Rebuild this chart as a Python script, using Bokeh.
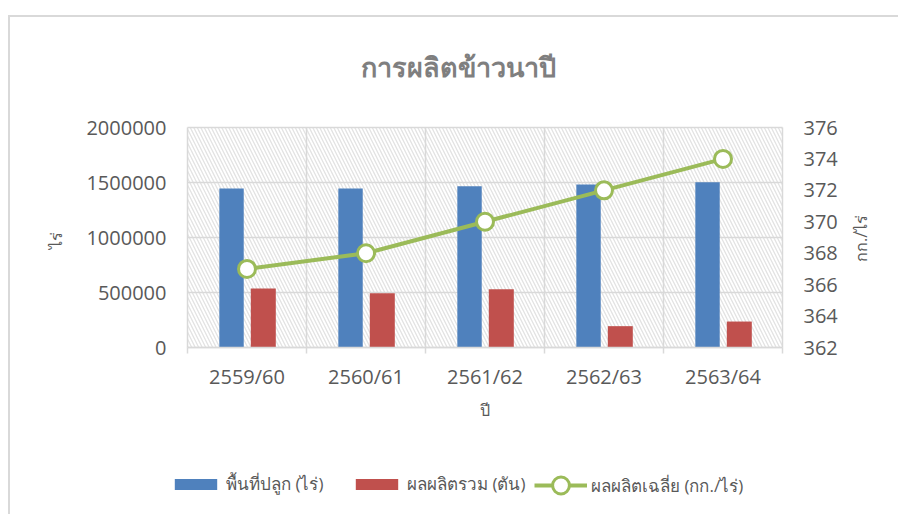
import math
from bokeh.plotting import figure
from bokeh.models import (Range1d, LinearAxis, FixedTicker, Legend, LegendItem,
                          BoxAnnotation, Label, ColumnDataSource, BasicTickFormatter)
from bokeh.transform import dodge
from bokeh.embed import file_html
from bokeh.resources import INLINE

years = ["2559/60", "2560/61", "2561/62", "2562/63", "2563/64"]
area = [1445000, 1445000, 1466000, 1482000, 1503000]
production = [536000, 494000, 530000, 194000, 236000]
yield_avg = [367, 368, 370, 372, 374]
left_ticks = [0, 500000, 1000000, 1500000, 2000000]
right_ticks = [362, 364, 366, 368, 370, 372, 374, 376]

# layout (pixels, inside the drawing frame; y measured from the frame bottom)
FW, FH = 888, 497          # whole drawing area
CAT_PX = 119               # width of one category
DATA_L = 177               # left edge of data area
DATA_B = 167               # bottom of data area (from frame bottom)
DATA_H = 220               # height of data area

xpos = list(range(1, len(years) + 1))
bounds = [x - 0.5 for x in xpos] + [xpos[-1] + 0.5]
src = ColumnDataSource(dict(x=xpos, area=area, prod=production, yld=yield_avg))

GRID = "#d9d9d9"
TXT = "#595959"
FONT = "Open Sans"

l_lo, l_hi = left_ticks[0], left_ticks[-1]
r_lo, r_hi = right_ticks[0], right_ticks[-1]
DATA_R = DATA_L + CAT_PX * len(years)
top_px = FH - DATA_B - DATA_H


def yr(lo, hi):
    k = (hi - lo) / DATA_H
    return Range1d(lo - DATA_B * k, hi + top_px * k)


p = figure(frame_width=FW, frame_height=FH,
           min_border_left=0, min_border_top=0, min_border_right=0, min_border_bottom=0,
           output_backend="svg", toolbar_location=None,
           x_range=Range1d(bounds[0] - DATA_L / CAT_PX, bounds[-1] + (FW - DATA_R) / CAT_PX),
           y_range=yr(l_lo, l_hi))
p.styles = {"margin-left": "8px", "margin-top": "15px",
            "border-top": "2px solid #d9d9d9", "border-left": "2px solid #d9d9d9"}
p.extra_y_ranges = {"r": yr(r_lo, r_hi)}
p.outline_line_color = None
p.background_fill_color = "white"
p.border_fill_color = "white"
p.xgrid.visible = False
p.ygrid.visible = False

# hatched plot-area background
bg = BoxAnnotation(left=bounds[0], right=bounds[-1], bottom=l_lo, top=l_hi,
                   fill_color="white", fill_alpha=1.0, line_color=None,
                   hatch_pattern="\\", hatch_color="#e3e3e3", hatch_scale=7,
                   hatch_weight=1.3, level="image")
p.add_layout(bg)

# grid lines
p.segment(x0=bounds, x1=bounds, y0=[l_lo] * len(bounds), y1=[l_hi] * len(bounds),
          line_color=GRID, line_width=1.5)
p.segment(x0=[bounds[0]] * len(left_ticks), x1=[bounds[-1]] * len(left_ticks),
          y0=left_ticks, y1=left_ticks, line_color=GRID, line_width=1.5)

# bars and line
blue = p.vbar(x=dodge("x", -0.13, range=p.x_range), top="area", width=0.205,
              source=src, fill_color="#4f81bd", line_color=None)
red = p.vbar(x=dodge("x", 0.137, range=p.x_range), top="prod", width=0.21,
             source=src, fill_color="#c0504d", line_color=None)
ln = p.line("x", "yld", source=src, y_range_name="r", line_color="#9bbb59", line_width=4)
mk = p.scatter("x", "yld", source=src, y_range_name="r", size=17, fill_color="white",
               line_color="#9bbb59", line_width=3)

# x axis, fixed at value 0
xa = p.xaxis[0]
xa.fixed_location = l_lo
xa.bounds = (bounds[0], bounds[-1])
xa.ticker = FixedTicker(ticks=xpos, minor_ticks=bounds)
xa.major_label_overrides = {x: y for x, y in zip(xpos, years)}
xa.axis_line_color = GRID
xa.axis_line_width = 1.5
xa.major_tick_line_color = None
xa.major_tick_out = 0
xa.major_tick_in = 0
xa.minor_tick_line_color = GRID
xa.minor_tick_line_width = 1.5
xa.minor_tick_out = 6
xa.minor_tick_in = 0
xa.major_label_text_font = FONT
xa.major_label_text_font_size = "20px"
xa.major_label_text_color = TXT
xa.major_label_standoff = 9
xa.axis_label = "ปี"
xa.axis_label_text_font = FONT
xa.axis_label_text_font_size = "16px"
xa.axis_label_text_font_style = "normal"
xa.axis_label_text_color = TXT
xa.axis_label_standoff = 6

# left axis, fixed at the left edge of the data area
ya = p.yaxis[0]
ya.fixed_location = bounds[0]
ya.ticker = FixedTicker(ticks=left_ticks)
ya.bounds = (l_lo, l_hi)
ya.formatter = BasicTickFormatter(use_scientific=False)

# right axis, fixed at the right edge of the data area
ra = LinearAxis(y_range_name="r", ticker=FixedTicker(ticks=right_ticks),
                bounds=(r_lo, r_hi), fixed_location=bounds[-1])
p.add_layout(ra, "right")

for a in (ya, ra):
    a.axis_line_color = None
    a.major_tick_line_color = None
    a.minor_tick_line_color = None
    a.major_tick_out = 0
    a.major_tick_in = 0
    a.major_label_text_font = FONT
    a.major_label_text_font_size = "20px"
    a.major_label_text_color = TXT
    a.major_label_standoff = 21

# texts placed in frame pixels
def txt(s, x, y, size, angle=0.0, bold=False, color=TXT):
    p.add_layout(Label(x=x, y=y, x_units="screen", y_units="screen", text=s, angle=angle,
                       text_align="center", text_baseline="middle", text_font=FONT,
                       text_font_size=size, text_font_style="bold" if bold else "normal",
                       text_color=color))

txt("การผลิตข้าวนาปี", 448, 448, "27px", bold=True, color="#7f7f7f")
txt("ไร่", 45, 274, "16px", angle=math.pi / 2)
txt("กก./ไร่", 850, 276, "16px", angle=math.pi / 2)

# legends (one per entry, placed in frame pixels)
def add_legend(label, renderers, loc, gh):
    lg = Legend(items=[LegendItem(label=label, renderers=renderers)], location=loc,
                orientation="horizontal", glyph_width=53, glyph_height=gh,
                label_text_font=FONT, label_text_font_size="17px", label_text_color=TXT,
                label_standoff=4, padding=0, margin=0, border_line_color=None,
                background_fill_alpha=0, spacing=0)
    p.add_layout(lg, "center")

add_legend("พื้นที่ปลูก (ไร่)", [blue], (159, 17), 14)
add_legend("ผลผลิตรวม (ตัน)", [red], (340, 17), 14)
add_legend("ผลผลิตเฉลี่ย (กก./ไร่)", [ln, mk], (524, 8), 42)

open("out.html", "w").write(file_html(p, INLINE))
